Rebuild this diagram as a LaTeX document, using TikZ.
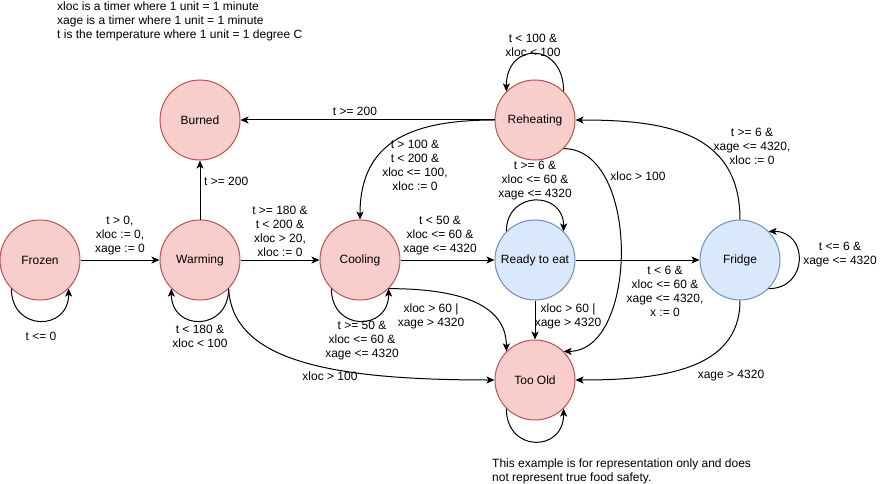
\documentclass[tikz,border=0pt]{standalone}
\usepackage{fontspec}
\setmainfont{Liberation Sans}
\usetikzlibrary{arrows.meta}
\definecolor{redfill}{HTML}{F8CECC}
\definecolor{redline}{HTML}{B85450}
\definecolor{bluefill}{HTML}{DAE8FC}
\definecolor{blueline}{HTML}{6C8EBF}
\begin{document}
\begin{tikzpicture}[x=1pt,y=1pt,font=\fontsize{12}{14}\selectfont,
    state/.style={circle,draw,line width=1pt,minimum size=80pt,inner sep=0pt},
    hot/.style={state,fill=redfill,draw=redline},
    cold/.style={state,fill=bluefill,draw=blueline},
    lbl/.style={align=center,inner sep=0pt},
    trans/.style={draw,line width=1pt,-{Stealth[length=8pt,width=7pt,inset=2pt]}}]
    \useasboundingbox (0,0) rectangle (881,-484);
    % states
    \node[hot] (frozen) at (40,-260) {Frozen};
    \node[hot] (warming) at (200,-260) {Warming};
    \node[hot] (burned) at (200,-120) {Burned};
    \node[hot] (cooling) at (360,-260) {Cooling};
    \node[hot] (reheat) at (535,-120) {Reheating};
    \node[cold] (ready) at (535,-260) {Ready to eat};
    \node[cold] (fridge) at (740,-260) {Fridge};
    \node[hot] (old) at (535,-380) {Too Old};
    % transitions
    \draw[trans] (frozen) -- (warming);
    \draw[trans] (frozen.225) .. controls +(0,-43) and +(0,-43) .. (frozen.-45);
    \draw[trans] (warming) -- (burned);
    \draw[trans] (warming.-45) .. controls +(0,-43) and +(0,-43) .. (warming.225);
    \draw[trans] (warming.-45) .. controls +(4,-72) and +(-165,0) .. (old.west);
    \draw[trans] (warming) -- (cooling);
    \draw[trans] (cooling.225) .. controls +(0,-43) and +(0,-43) .. (cooling.-45);
    \draw[trans] (cooling.-45) .. controls +(71,0) and +(0,47) .. (old.135);
    \draw[trans] (cooling) -- (ready);
    \draw[trans] (reheat) -- (burned);
    \draw[trans] (reheat.west) .. controls +(-80,0) and +(0,80) .. (cooling.north);
    \draw[trans] (reheat.45) .. controls +(0,50) and +(0,50) .. (reheat.135);
    \draw[trans] (reheat.-45) .. controls +(77,0) and +(75,0) .. (old.45);
    \draw[trans] (ready.135) .. controls +(0,41) and +(0,41) .. (ready.45);
    \draw[trans] (ready) -- (fridge);
    \draw[trans] (ready) -- (old);
    \draw[trans] (fridge.north) .. controls +(0,90) and +(85,0) .. (reheat.east);
    \draw[trans] (fridge.-45) .. controls +(40,0) and +(40,0) .. (fridge.45);
    \draw[trans] (fridge.south) .. controls +(0,-70) and +(85,0) .. (old.east);
    \draw[trans] (old.-135) .. controls +(0,-44) and +(0,-44) .. (old.-45);
    % guards
    \node[lbl] (fw) at (120,-236) {t > 0,\\xloc := 0,\\xage := 0};
    \node[lbl] (ff) at (41,-336) {t <= 0};
    \node[lbl,anchor=west] (wb) at (204,-181) {t >= 200};
    \node[lbl] (ww) at (200,-336) {t < 180 \&\\xloc < 100};
    \node[lbl] (wo) at (330,-376) {xloc > 100};
    \node[lbl] (wc) at (280,-231) {t >= 180 \&\\t < 200 \&\\xloc > 20,\\xloc := 0};
    \node[lbl] (cc) at (362,-341) {t >= 50 \&\\xloc <= 60 \&\\xage <= 4320};
    \node[lbl] (co) at (431,-316) {xloc > 60 |\\xage > 4320};
    \node[lbl] (cr) at (440,-236) {t < 50 \&\\xloc <= 60 \&\\xage <= 4320};
    \node[lbl] (rb) at (355,-111) {t >= 200};
    \node[lbl] (rc) at (415,-165) {t > 100 \&\\t < 200 \&\\xloc <= 100,\\xloc := 0};
    \node[lbl] (rr) at (533,-45) {t < 100 \&\\xloc < 100};
    \node[lbl] (ro) at (638,-176) {xloc > 100};
    \node[lbl] (ee) at (535,-181) {t >= 6 \&\\xloc <= 60 \&\\xage <= 4320};
    \node[lbl] (ef) at (665,-291) {t < 6 \&\\xloc <= 60 \&\\xage <= 4320,\\x := 0};
    \node[lbl] (eo) at (568,-316) {xloc > 60 |\\xage > 4320};
    \node[lbl] (fr) at (752,-146) {t >= 6 \&\\xage <= 4320,\\xloc := 0};
    \node[lbl] (fl) at (840,-255) {t <= 6 \&\\xage <= 4320};
    \node[lbl] (fo) at (731,-376) {xage > 4320};
    % notes
    \node[lbl,align=left,anchor=west] (key) at (57,-21) {xloc is a timer where 1 unit = 1 minute\\xage is a timer where 1 unit = 1 minute\\t is the temperature where 1 unit = 1 degree C};
    \node[lbl,align=left,anchor=west] (note) at (492,-471) {This example is for representation only and does\\not represent true food safety.};
\end{tikzpicture}
\end{document}
